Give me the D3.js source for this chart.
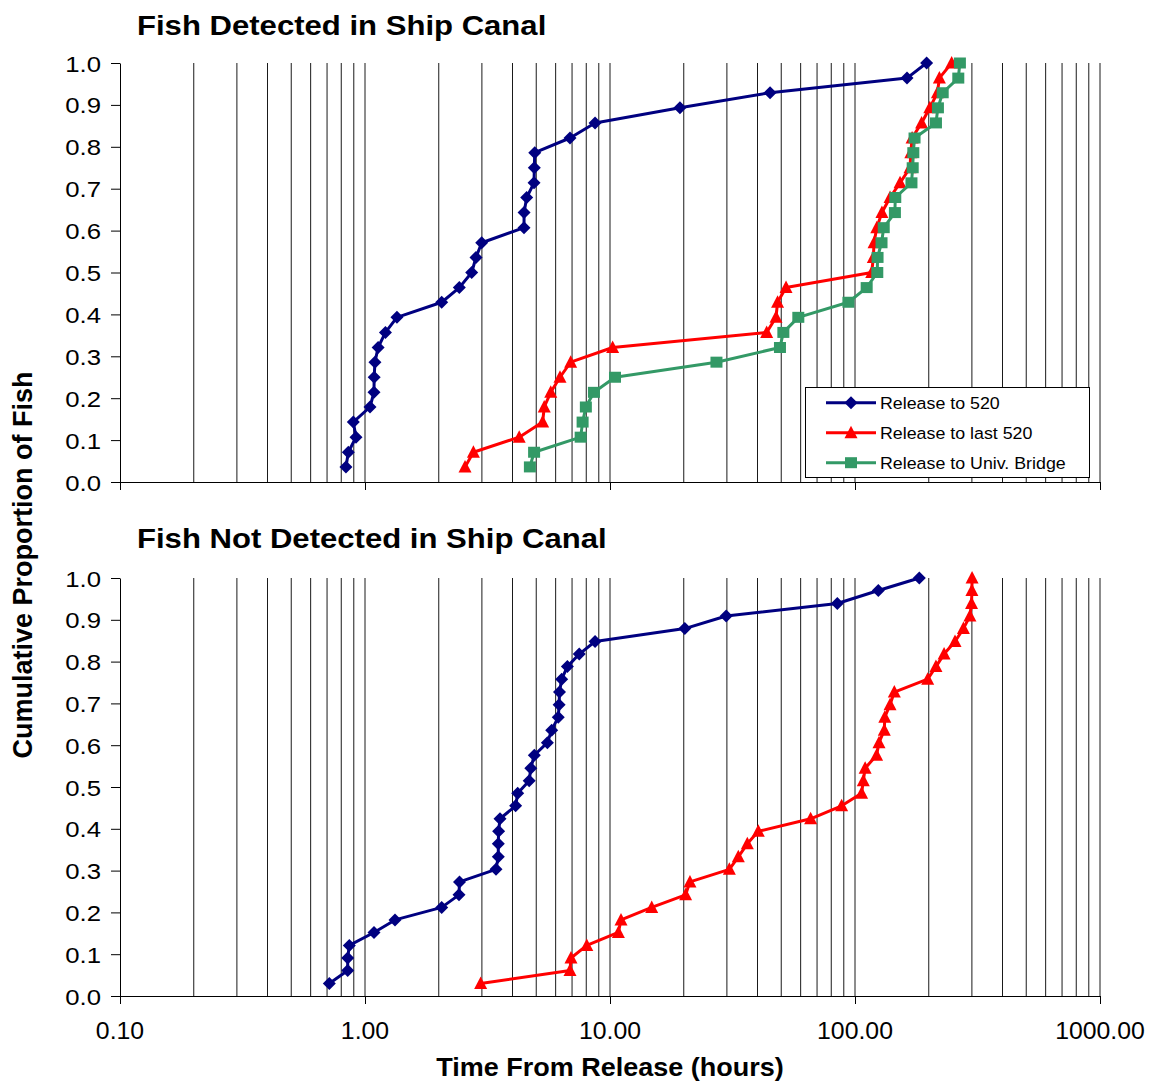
<!DOCTYPE html>
<html>
<head>
<meta charset="utf-8">
<script src="https://cdn.jsdelivr.net/npm/d3@7"></script>
<style>
  html, body { margin: 0; padding: 0; background: #fff; }
  svg { display: block; }
</style>
</head>
<body>
<svg id="chart" width="1157" height="1087"></svg>
<script>
// Time from release (hours) and cumulative proportion of fish, per panel and route
const propDetected = [0.036,0.071,0.107,0.143,0.179,0.214,0.250,0.286,0.321,0.357,0.393,0.429,0.464,0.500,
  0.536,0.571,0.607,0.643,0.679,0.714,0.750,0.786,0.821,0.857,0.893,0.929,0.964,1.000];
const detTo520 = [0.836,0.855,0.919,0.896,1.048,1.088,1.09,1.098,1.131,1.212,1.35,2.056,2.427,2.726,
  2.838,2.995,4.457,4.46,4.57,4.897,4.91,4.93,6.866,8.69,19.3,45,163,196];
const detToLast520 = [2.56,2.77,4.26,5.31,5.39,5.73,6.25,6.91,10.25,43.6,47.6,48.3,52.3,117,
  118.8,119.6,122.7,128.8,139,152.7,167.7,169,171,187,202,217,221,248];
const detToBridge = [4.71,4.90,7.59,7.73,7.97,8.60,10.48,27.2,49.4,51,58.7,94,111.6,123.3,
  123.6,128.3,131,145.5,146,170,172,173,175,214,218,228,264,268];

const propNotDetected = [0.030,0.061,0.091,0.121,0.152,0.182,0.212,0.242,0.273,0.303,0.333,0.364,0.394,
  0.424,0.455,0.485,0.515,0.545,0.576,0.606,0.636,0.667,0.697,0.727,0.758,0.788,0.818,0.848,0.879,
  0.909,0.939,0.970,1.000];
const notTo520 = [0.715,0.850,0.850,0.863,1.088,1.326,2.056,2.419,2.43,3.425,3.50,3.50,3.51,3.556,
  4.12,4.20,4.68,4.75,4.91,5.55,5.78,6.15,6.20,6.22,6.35,6.70,7.49,8.69,20.2,29.8,84.7,124.5,183];
const notToLast520 = [2.965,6.866,6.93,8.04,10.82,11.09,14.8,20.35,21.2,30.7,33.4,36.35,40.3,65.9,
  88.2,106.4,108.1,110,122.5,125.3,131.7,132.3,139,144.7,198,214,231,256,277,294.5,299,300,300.5];

const seriesNames = ["Release to 520", "Release to last 520", "Release to Univ. Bridge"];
const panelTitles = ["Fish Detected in Ship Canal", "Fish Not Detected in Ship Canal"];
const xTickValues = [0.1, 1, 10, 100, 1000];
const yTickValues = [0, 0.1, 0.2, 0.3, 0.4, 0.5, 0.6, 0.7, 0.8, 0.9, 1.0];
const xTitle = "Time From Release (hours)";
const yTitle = "Cumulative Proportion of Fish";

const colors = ["#000080", "#FF0000", "#339966"];
const shapes = ["diamond", "triangle", "square"];
const FONT = "'Liberation Sans', Arial, Helvetica, sans-serif";

const svg = d3.select("#chart");
const x = d3.scaleLog().domain([0.1, 1000]).range([120, 1100]);

function addText(parent, px, py, str, opts) {
  const s = opts.stretch || 1;
  const g = parent.append("g")
    .attr("transform", `translate(${px},${py}) scale(${s},1)` + (opts.rotate ? ` rotate(${opts.rotate})` : ""));
  return g.append("text")
    .attr("font-family", FONT)
    .attr("font-size", opts.size)
    .attr("font-weight", opts.weight || "normal")
    .attr("text-anchor", opts.anchor || "start")
    .attr("fill", "#000")
    .text(str);
}

function marker(g, shape, cx, cy, color) {
  if (shape === "diamond") {
    g.append("path").attr("d", `M${cx},${cy-6.5}L${cx+6.5},${cy}L${cx},${cy+6.5}L${cx-6.5},${cy}Z`).attr("fill", color);
  } else if (shape === "triangle") {
    g.append("path").attr("d", `M${cx},${cy-7}L${cx+6.5},${cy+5.5}L${cx-6.5},${cy+5.5}Z`).attr("fill", color);
  } else {
    g.append("rect").attr("x", cx-6).attr("y", cy-5.5).attr("width", 12).attr("height", 11).attr("fill", color);
  }
}

function panel(top, bottom, series, showLabels, title, titleY) {
  const y = d3.scaleLinear().domain([0, 1]).range([bottom, top]);
  const g = svg.append("g");

  // vertical log grid
  g.append("g").selectAll("line")
    .data(x.ticks().filter(v => v > 0.1 + 1e-9))
    .join("line")
    .attr("x1", d => x(d)).attr("x2", d => x(d))
    .attr("y1", y(0)).attr("y2", y(1))
    .attr("stroke", "#1a1a1a").attr("stroke-width", 1);

  // x axis
  const xa = g.append("g").attr("transform", `translate(0,${y(0)})`)
    .call(d3.axisBottom(x).tickValues(xTickValues).tickSize(8).tickSizeOuter(0).tickFormat(d3.format(".2f")));
  xa.select(".domain").attr("stroke", "#000");
  xa.selectAll(".tick line").attr("stroke", "#000");
  xa.selectAll(".tick text").remove();
  if (showLabels) {
    xTickValues.forEach(v => addText(g, x(v), y(0) + 43, d3.format(".2f")(v), { size: 23, anchor: "middle", stretch: 1.08 }));
  }

  // y axis
  const ya = g.append("g").attr("transform", `translate(${x(0.1)},0)`)
    .call(d3.axisLeft(y).tickValues(yTickValues).tickSize(9).tickSizeOuter(0).tickFormat(d3.format(".1f")));
  ya.select(".domain").attr("stroke", "#000");
  ya.selectAll(".tick line").attr("stroke", "#000");
  ya.selectAll(".tick text").remove();
  yTickValues.forEach(v => addText(g, x(0.1) - 19, y(v) + 8.5, d3.format(".1f")(v), { size: 23, anchor: "end", stretch: 1.12 }));

  // series lines and markers
  const line = d3.line().x(d => x(d.t)).y(d => y(d.p));
  series.forEach(s => {
    const pts = s.times.map((t, i) => ({ t, p: s.props[i] }));
    const sg = g.append("g");
    sg.append("path").datum(pts).attr("d", line)
      .attr("fill", "none").attr("stroke", colors[s.idx]).attr("stroke-width", 3).attr("stroke-linejoin", "round");
    pts.forEach(d => marker(sg, shapes[s.idx], x(d.t), y(d.p), colors[s.idx]));
  });

  addText(svg, 137, titleY, title, { size: 28, weight: "bold", stretch: 1.11 });
  return y;
}

panel(63, 482, [
  { idx: 0, times: detTo520, props: propDetected },
  { idx: 1, times: detToLast520, props: propDetected },
  { idx: 2, times: detToBridge, props: propDetected }
], false, panelTitles[0], 35);

panel(578, 996, [
  { idx: 0, times: notTo520, props: propNotDetected },
  { idx: 1, times: notToLast520, props: propNotDetected }
], true, panelTitles[1], 548);

// legend for the upper panel
const lg = svg.append("g");
lg.append("rect").attr("x", 805.5).attr("y", 387.5).attr("width", 284).attr("height", 90)
  .attr("fill", "#fff").attr("stroke", "#000").attr("stroke-width", 1);
seriesNames.forEach((name, i) => {
  const cy = 402.7 + i * 30;
  lg.append("line").attr("x1", 826).attr("x2", 876).attr("y1", cy).attr("y2", cy)
    .attr("stroke", colors[i]).attr("stroke-width", 3);
  marker(lg, shapes[i], 851, cy, colors[i]);
  addText(lg, 880, cy + 6, name, { size: 16.5, stretch: 1.08 });
});

// axis titles
addText(svg, 610, 1076, xTitle, { size: 25, weight: "bold", anchor: "middle", stretch: 1.08 });
addText(svg, 32, 565, yTitle, { size: 27, weight: "bold", anchor: "middle", stretch: 1.0, rotate: -90 });
</script>
</body>
</html>
